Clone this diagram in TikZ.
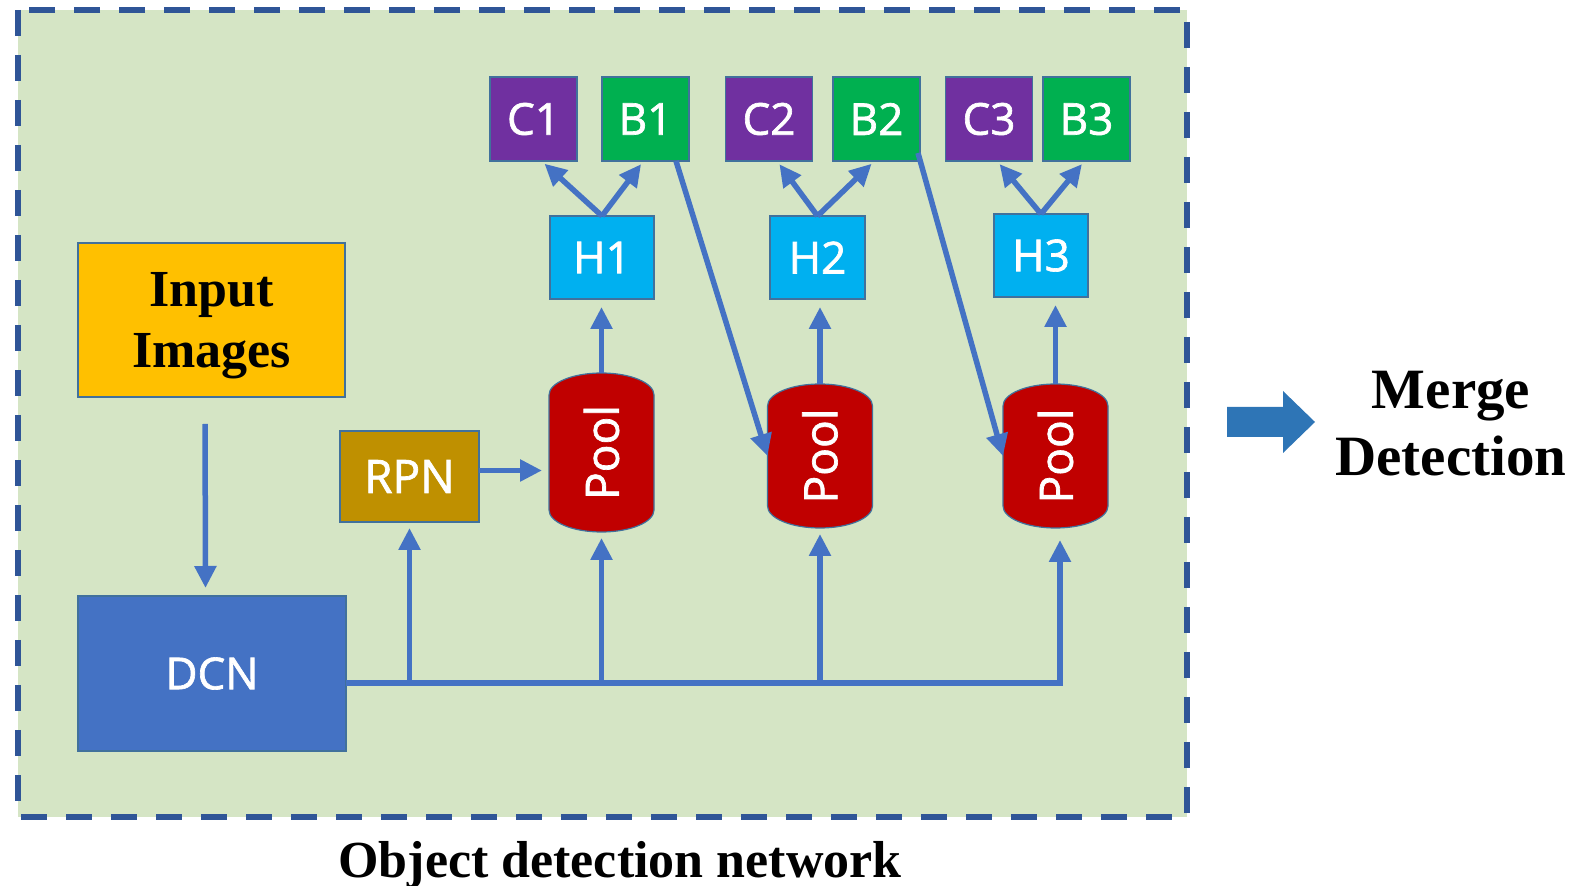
\documentclass[tikz,border=0pt]{standalone}
\usepackage{fontspec}
\setmainfont{Liberation Serif}
\setsansfont{Open Sans}[FakeBold=1.5]
\usepackage{graphicx}
\usetikzlibrary{arrows.meta}
\definecolor{cbg}{HTML}{D5E5C5}
\definecolor{cframe}{HTML}{2F5597}
\definecolor{cline}{HTML}{4472C4}
\definecolor{cedge}{HTML}{41719C}
\definecolor{cyellow}{HTML}{FFC000}
\definecolor{cgold}{HTML}{BF9000}
\definecolor{cred}{HTML}{C00000}
\definecolor{ccyan}{HTML}{00B0F0}
\definecolor{cpurple}{HTML}{7030A0}
\definecolor{cgreen}{HTML}{00B050}
\definecolor{cbig}{HTML}{2E75B6}
\pgfdeclarelayer{bg}
\pgfsetlayers{bg,main}

\begin{document}
\begin{tikzpicture}[x=0.5pt,y=0.5pt,
  blk/.style={draw=cedge,line width=0.6pt,inner sep=0pt,outer sep=0pt,text=white,
    font=\sffamily\fontsize{22}{24}\selectfont},
  cblk/.style={blk,fill=cpurple,minimum width=43.5pt,minimum height=42pt},
  bblk/.style={blk,fill=cgreen,minimum width=43.5pt,minimum height=42pt},
  hblk/.style={blk,fill=ccyan,minimum height=41.5pt},
  pool/.style={inner sep=0pt,outer sep=0pt,minimum width=52.5pt,text=white,
    font=\sffamily\fontsize{23}{24}\selectfont},
  can/.style={fill=cred,draw=cedge,line width=0.6pt},
  flow/.style={draw=cline,line width=2.75pt,-{Triangle[length=11pt,width=10.5pt]}},
  bold/.style={font=\bfseries\fontsize{26}{30.5}\selectfont,align=center}]
  \useasboundingbox (0,0) rectangle (1595,-886);
  \begin{pgfonlayer}{bg}
    \draw[fill=cbg,draw=cframe,line width=3pt,dash pattern=on 13pt off 9.5pt]
      (18,-10) rectangle (1187,-817);
  \end{pgfonlayer}

  % left column
  \node[blk,fill=cyellow,text=black,minimum width=133.5pt,minimum height=77pt,bold,
    text depth=0pt] (inp) at (211.5,-320) {Input\\Images};
  \node[blk,fill=cline,minimum width=134pt,minimum height=77.5pt] (dcn) at (212,-673.5) {DCN};
  \node[blk,fill=cgold,minimum width=69.5pt,minimum height=45.5pt,
    font=\sffamily\fontsize{23}{24}\selectfont] (rpn) at (409.5,-476.5) {RPN};

  % pooling stages
  \node[pool,minimum height=79.5pt] (p1) at (601.5,-452.5) {\rotatebox{90}{Pool}};
  \node[pool,minimum height=72pt] (p2) at (820,-456) {\rotatebox{90}{Pool}};
  \node[pool,minimum height=72pt] (p3) at (1055.5,-456) {\rotatebox{90}{Pool}};
  \begin{pgfonlayer}{bg}
    \foreach \p in {p1,p2,p3}
      \path[can] ([yshift=-11pt]\p.north west)
        arc[start angle=180,end angle=0,x radius=26.25pt,y radius=11pt]
        -- ([yshift=11pt]\p.south east)
        arc[start angle=0,end angle=-180,x radius=26.25pt,y radius=11pt] -- cycle;
  \end{pgfonlayer}

  % heads
  \node[hblk,minimum width=52pt] (h1) at (602,-257.5) {H1};
  \node[hblk,minimum width=47.5pt] (h2) at (817.5,-257.5) {H2};
  \node[hblk,minimum width=47pt] (h3) at (1041,-255.5) {H3};
  \node[cblk] (c1) at (533.5,-119) {C1};
  \node[bblk] (b1) at (645.5,-119) {B1};
  \node[cblk] (c2) at (769,-119) {C2};
  \node[bblk] (b2) at (876.5,-119) {B2};
  \node[cblk] (c3) at (989,-119) {C3};
  \node[bblk] (b3) at (1086.5,-119) {B3};

  % connectors
  \draw[flow,shorten <=13.5pt,shorten >=4pt] ([xshift=-3.25pt]inp.south) -- ([xshift=-3.25pt]dcn.north);
  \coordinate (bus) at ([yshift=-4.75pt]dcn.east);
  \draw[flow,shorten >=6pt] (bus) -| ([xshift=2.25pt]p3.south);
  \foreach \t in {rpn,p1,p2}
    \draw[flow,shorten >=3pt] (bus -| \t.south) -- (\t.south);
  \coordinate (r) at ([yshift=3pt]rpn.east);
  \draw[flow,shorten >=3.5pt] (r) -- (r -| p1.west);
  \foreach \p/\h in {p1/h1,p2/h2,p3/h3}
    \draw[flow,shorten >=4pt] (\p.north) -- (\p.north |- \h.south);
  \foreach \h/\c/\b in {h1/c1/b1,h2/c2/b2,h3/c3/b3}{
    \draw[flow,shorten >=2pt] (\h.north) -- ([xshift=4pt]\c.south);
    \draw[flow,shorten >=2pt] (\h.north) -- ([xshift=-1pt]\b.south);
  }
  \draw[flow] ([xshift=-6.5pt]b1.south east) -- (p2.west);
  \draw[flow] ([xshift=-1pt,yshift=4pt]b2.south east) -- (p3.west);

  % merge step
  \fill[cbig] (1227,-407) -- (1283,-407) -- (1283,-391) -- (1315,-422)
    -- (1283,-453) -- (1283,-437) -- (1227,-437) -- cycle;
  \node[bold,font=\bfseries\fontsize{28.5}{33.5}\selectfont,anchor=base] (merge) at (1451,-476) {Merge\\Detection};
  \node[bold,anchor=base] (title) at (620,-877) {Object detection network};
\end{tikzpicture}
\end{document}
